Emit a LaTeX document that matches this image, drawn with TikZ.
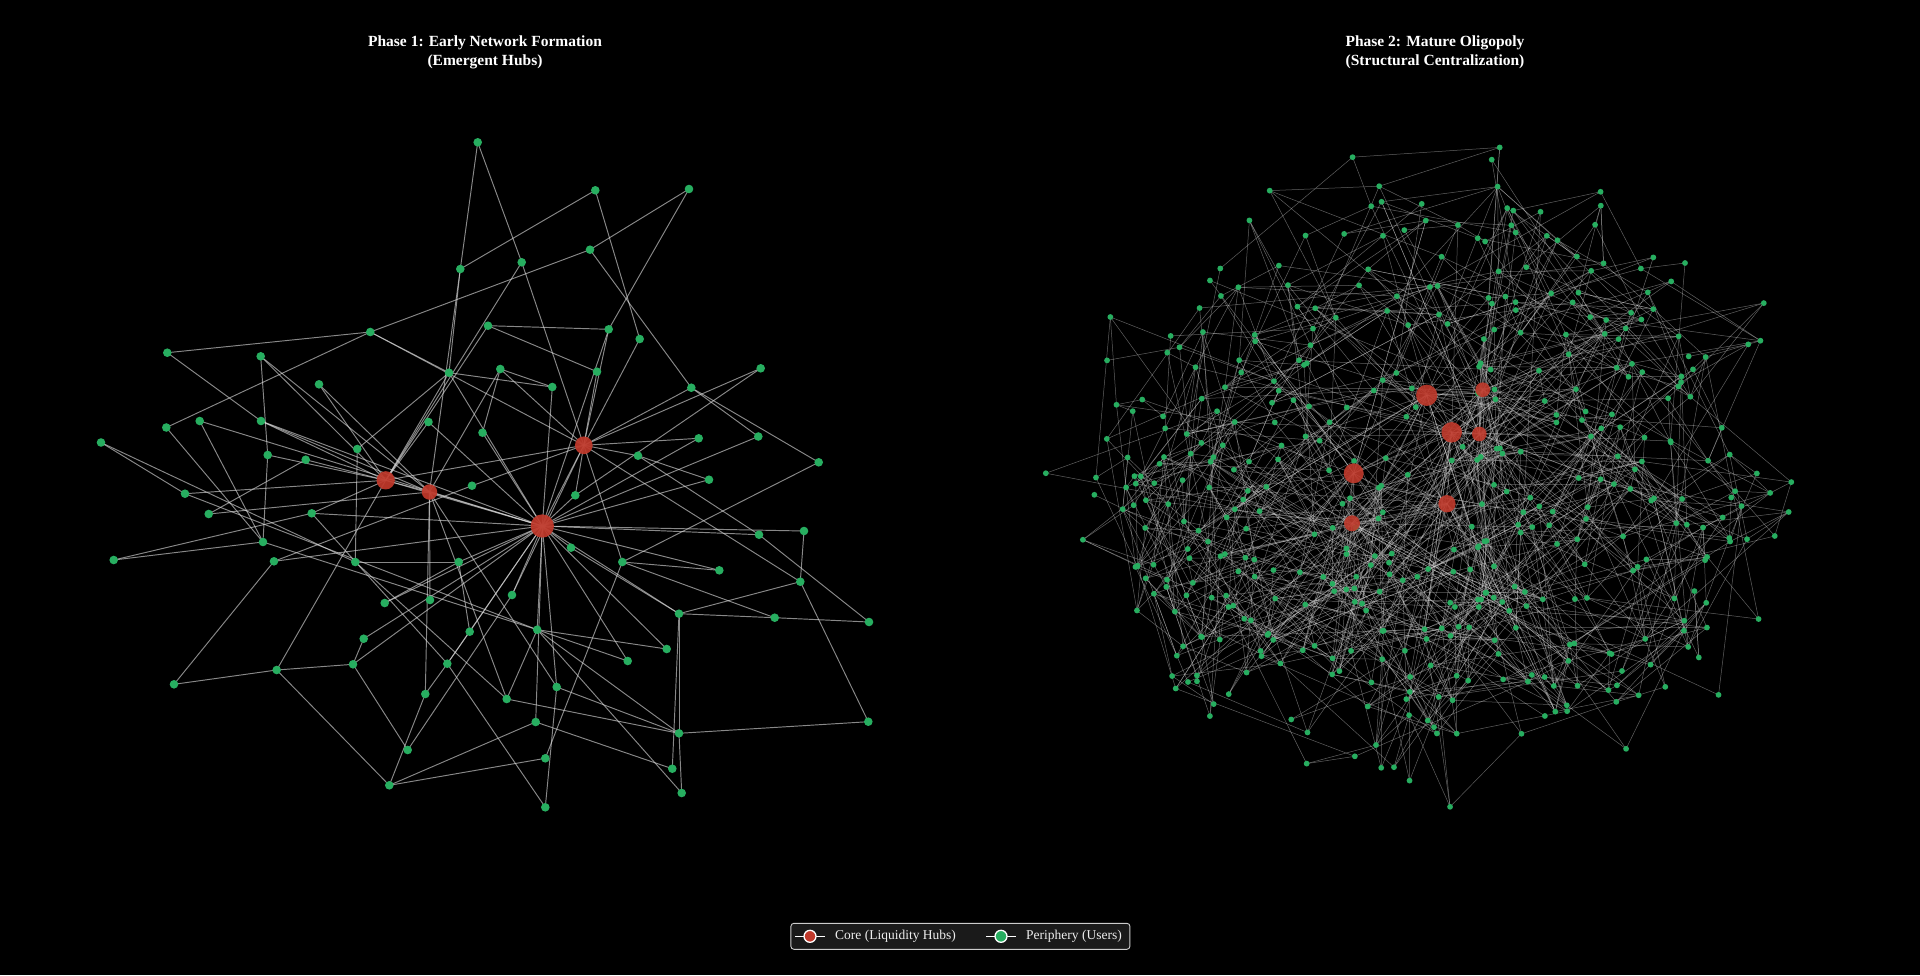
\documentclass[tikz,border=0pt]{standalone}
\usepackage{fontspec}
\setmainfont{Liberation Serif}
\definecolor{hubred}{HTML}{C0392B}
\definecolor{usergreen}{HTML}{27AE60}
\definecolor{edgegray}{HTML}{DDDDDD}
\definecolor{legfill}{HTML}{1A1A1A}
\definecolor{legborder}{HTML}{CCCCCC}
\pgfdeclarelayer{bg}
\pgfdeclarelayer{edgelayer}
\pgfsetlayers{bg,edgelayer,main}
\tikzset{
  pnode/.style={circle, fill=usergreen, inner sep=0pt, minimum size=8.6pt},
  phub/.style={circle, fill=hubred, fill opacity=0.93, inner sep=0pt},
  pedge/.style={draw=edgegray, line width=0.95pt, opacity=0.62},
  qnode/.style={circle, fill=usergreen, inner sep=0pt, minimum size=5.8pt},
  qhub/.style={circle, fill=hubred, fill opacity=0.9, inner sep=0pt},
  qedge/.style={draw=edgegray, line width=0.5pt, opacity=0.43},
  titletext/.style={text=white, align=center, font=\bfseries\fontsize{15.5}{18.5}\selectfont},
  legline/.style={draw=white, line width=1.4pt},
  legmark/.style={circle, draw=white, line width=1.3pt, inner sep=0pt, minimum size=12pt},
  legtext/.style={text=white!93!black, inner sep=0pt, font=\fontsize{13.5}{16}\selectfont},
}
\begin{document}
\begin{tikzpicture}[x=1pt,y=-1pt]
\useasboundingbox (0,0) rectangle (1920,975);
\begin{pgfonlayer}{bg}
\fill[black] (0,0) rectangle (1920,975);
\end{pgfonlayer}

% ---------------- titles ----------------
\node[titletext] (t1) at (485,52.5) {Phase 1: Early Network Formation\\(Emergent Hubs)};
\node[titletext] (t2) at (1435,52.5) {Phase 2: Mature Oligopoly\\(Structural Centralization)};

% ---------------- Phase 1 nodes ----------------
\foreach \n/\x/\y in {
 n1/477.7/142.3, n2/595.3/190.3, n3/689/189, n4/460.3/269, n5/521.7/262.3,
 n6/590/249.7, n7/370.3/332, n8/167.3/352.7, n9/260.7/356.3, n10/488/325.7,
 n11/608.7/329.3, n12/639.7/339, n13/449/372.7, n14/500.3/369, n15/760.7/368.3,
 n16/319/384.3, n17/597/371.7, n18/552.3/387, n19/691.3/387.7, n20/428.5/422,
 n21/482.5/432.7, n22/261/421, n23/199.7/421, n24/166.3/427.5, n25/101/442.5,
 n26/357.3/449, n27/267.7/455, n28/305.7/459.7, n29/472/485.7, n30/185/493.7,
 n31/208.7/514, n32/311.7/513.3, n33/698.7/438.3, n34/758.3/436.5, n35/638/455.7,
 n36/818.7/462.3, n37/709/479.7, n38/575.3/495.3, n39/263/542, n40/113.7/560,
 n41/274/561.3, n42/355.3/562, n43/458.7/562, n44/804/531, n45/759/534.7,
 n46/571/547.7, n47/622.3/562, n48/719.3/570.3, n49/800.3/581.7, n50/384.7/603,
 n51/430/600, n52/512/595, n53/469.7/631.7, n54/537.2/629.7, n55/363.7/638.7,
 n56/679/613.7, n57/774.7/617.7, n58/869/622, n59/353/664.3, n60/276.7/670,
 n61/174/684.3, n62/447.3/663.7, n63/666.7/649, n64/627.7/661, n65/425.3/694,
 n66/506.7/699, n67/556.7/687, n68/535.7/722, n69/679/733.3, n70/868.3/721.7,
 n71/407.7/750, n72/545.3/758.3, n73/672.3/768.7, n74/389.3/785.3, n75/681.7/793,
 n76/545.3/807.3}
 \node[pnode] (\n) at (\x,\y) {};
\node[phub, minimum size=18.3pt] (HA) at (385.7,480.3) {};
\node[phub, minimum size=15.5pt] (HB) at (429.5,492) {};
\node[phub, minimum size=23.3pt] (HC) at (542.3,526) {};
\node[phub, minimum size=17.7pt] (HD) at (583.8,445.3) {};

% ---------------- Phase 1 edges ----------------
\begin{pgfonlayer}{edgelayer}
\foreach \a/\b in {
 n1/n4, n1/n5, n5/HD, n5/HA, n2/n4, n2/n12, n3/n6, n3/n11, n4/n13, n4/HB,
 n6/n7, n6/n19, n7/n8, n7/n24, n7/n13, n7/HD, n8/n22, n9/HA, n9/HB, n10/n11,
 n10/n17, n10/HA, n11/HD, n11/HC, n12/HD, n13/n18, n13/HA, n13/HC, n13/n26,
 n14/n18, n14/HB, n14/n21, n14/HD, n15/HD, n15/n38, n16/HA, n16/HB, n17/HD,
 n18/HC, n19/HD, n19/n34, n19/n36, n20/HC, n20/HA, n21/HC, n22/HA, n22/HC,
 n23/n39, n23/HC, n24/n39, n25/n30, n25/n42, n26/n42, n27/HA, n27/n39, n28/HA,
 n28/n31, n29/HD, n29/n41, n30/HA, n30/n54, n31/HB, n32/HA, n32/HC, n32/n40,
 n32/n62, n33/HD, n33/HC, n34/HC, n35/HD, n35/n45, n35/n37, n36/n47, n37/HC,
 n38/HD, n38/HC, n39/n40, n39/n54, n41/n61, n41/HC, n42/n43, n42/n66, n43/n53,
 n43/HC, n43/n50, n44/n49, n44/HC, n45/HC, n45/n58, n46/HC, n46/n56, n47/n48,
 n47/HD, n47/n72, n47/n57, n48/HC, n49/n56, n49/HD, n49/n70, n50/HC, n51/HB,
 n52/HC, n52/n71, n52/HD, n53/HC, n53/n62, n54/HC, n54/n66, n54/n69, n54/n63,
 n54/n64, n54/n75, n55/n59, n55/HC, n56/n69, n56/n73, n56/n57, n56/HC, n57/n58,
 n59/n60, n59/HC, n59/n71, n60/n61, n60/n74, n60/HA, n62/n65, n62/n76, n62/HC,
 n63/HC, n64/HC, n65/n74, n65/HB, n66/n69, n66/HB, n67/n69, n67/HC, n67/n76,
 n67/HB, n68/n74, n68/HC, n68/n73, n69/n70, n69/n75, n72/n74, HA/HB, HA/HC,
 HB/HC, HD/HC, HA/HD, n22/HB, n9/n27}
 \draw[pedge] (\a.center) -- (\b.center);
\end{pgfonlayer}

% ---------------- Phase 2 nodes (seeded layout) ----------------
\def\NQ{440}
\pgfmathsetseed{777}
\foreach \i in {1,...,\NQ}{
  \pgfmathsetmacro\ang{360*rnd}
  \pgfmathsetmacro\rad{pow(rnd,0.56)*(0.84+0.3*rnd)}
  \pgfmathsetmacro\px{1436+362*\rad*cos(\ang)}
  \pgfmathsetmacro\py{478+306*\rad*sin(\ang)}
  \expandafter\xdef\csname qx\i\endcsname{\px}
  \expandafter\xdef\csname qy\i\endcsname{\py}
  \node[qnode] (q\i) at (\px,\py) {};
}
\foreach \h/\hx/\hy/\hs in {Q1/1426.7/395.3/21.3, Q2/1482.7/389.7/14.7,
  Q3/1451.7/432.3/20.5, Q4/1479.3/434/14.7, Q5/1353.7/473.3/20,
  Q6/1447/503.7/17.3, Q7/1352/523.3/16}
  \node[qhub, minimum size=\hs pt] (\h) at (\hx,\hy) {};

% ---------------- Phase 2 edges ----------------
\begin{pgfonlayer}{edgelayer}
\foreach \i in {1,...,\NQ}{
  \edef\xa{\csname qx\i\endcsname}\edef\ya{\csname qy\i\endcsname}
  % guaranteed link: nearest of several random candidates
  \gdef\bestd{9000}\gdef\bestj{1}
  \foreach \t in {1,...,12}{
    \pgfmathrandominteger{\j}{1}{\NQ}
    \ifnum\j=\i\relax\else
      \edef\xb{\csname qx\j\endcsname}\edef\yb{\csname qy\j\endcsname}
      \pgfmathsetmacro\d{veclen(\xa-\xb,\ya-\yb)}
      \ifdim\d pt<\bestd pt \xdef\bestd{\d}\xdef\bestj{\j}\fi
    \fi
  }
  \draw[qedge] (q\i.center) -- (q\bestj.center);
  % further local links
  \foreach \t in {1,...,6}{
    \pgfmathrandominteger{\j}{1}{\NQ}
    \edef\xb{\csname qx\j\endcsname}\edef\yb{\csname qy\j\endcsname}
    \pgfmathsetmacro\d{veclen(\xa-\xb,\ya-\yb)}
    \ifdim\d pt<195pt \draw[qedge] (q\i.center) -- (q\j.center);\fi
  }
}
\foreach \h/\hx/\hy in {Q1/1426.7/395.3, Q2/1482.7/389.7, Q3/1451.7/432.3,
  Q4/1479.3/434, Q5/1353.7/473.3, Q6/1447/503.7, Q7/1352/523.3}{
  \foreach \t in {1,...,30}{
    \pgfmathrandominteger{\j}{1}{\NQ}
    \edef\xb{\csname qx\j\endcsname}\edef\yb{\csname qy\j\endcsname}
    \pgfmathsetmacro\d{veclen(\hx-\xb,\hy-\yb)}
    \ifdim\d pt<300pt \draw[qedge] (\h.center) -- (q\j.center);\fi
  }
}
\foreach \a/\b in {Q1/Q3, Q3/Q4, Q1/Q2, Q3/Q6, Q5/Q7, Q5/Q3, Q6/Q7, Q2/Q4, Q1/Q5}
  \draw[qedge] (\a.center) -- (\b.center);
\end{pgfonlayer}

% ---------------- legend ----------------
\node[draw=legborder, fill=legfill, rounded corners=3pt, line width=0.9pt,
      minimum width=339pt, minimum height=26pt, inner sep=0pt] (leg) at (960.4,936.3) {};
\coordinate (la1) at (795,936.3);
\coordinate (lb1) at (825,936.3);
\draw[legline] (la1) -- (lb1);
\node[legmark, fill=hubred] (lm1) at (810,936.3) {};
\node[legtext, anchor=west] (lt1) at (835,936.3) {Core (Liquidity Hubs)};
\coordinate (la2) at (986,936.3);
\coordinate (lb2) at (1016,936.3);
\draw[legline] (la2) -- (lb2);
\node[legmark, fill=usergreen] (lm2) at (1001,936.3) {};
\node[legtext, anchor=west] (lt2) at (1026,936.3) {Periphery (Users)};
\end{tikzpicture}
\end{document}
